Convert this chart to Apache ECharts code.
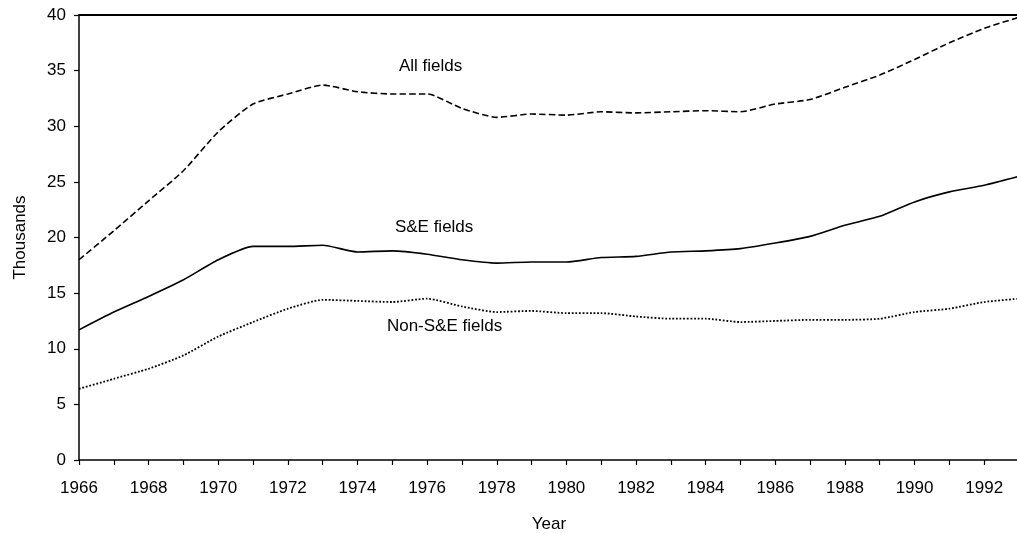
<!DOCTYPE html>
<html>
<head>
<meta charset="utf-8">
<script src="https://cdn.jsdelivr.net/npm/echarts@6/dist/echarts.min.js"></script>
<style>html,body{margin:0;padding:0;background:#fff;}#c{width:1017px;height:534px;}</style>
</head>
<body>
<div id="c"></div>
<script>
const years = [1966,1967,1968,1969,1970,1971,1972,1973,1974,1975,1976,1977,1978,1979,1980,1981,1982,1983,1984,1985,1986,1987,1988,1989,1990,1991,1992,1993];
const allFields = [18.0,20.6,23.3,26.0,29.5,32.0,32.9,33.7,33.1,32.9,32.9,31.6,30.8,31.1,31.0,31.3,31.2,31.3,31.4,31.3,32.0,32.4,33.5,34.6,36.0,37.5,38.8,39.8];
const seFields = [11.7,13.3,14.7,16.2,18.0,19.2,19.2,19.3,18.7,18.8,18.5,18.0,17.7,17.8,17.8,18.2,18.3,18.7,18.8,19.0,19.5,20.1,21.1,21.9,23.2,24.1,24.7,25.5];
const nonSeFields = [6.4,7.3,8.2,9.4,11.1,12.4,13.6,14.4,14.3,14.2,14.5,13.8,13.3,13.4,13.2,13.2,12.9,12.7,12.7,12.4,12.5,12.6,12.6,12.7,13.3,13.6,14.2,14.5];
const seriesNames = ['All fields','S&E fields','Non-S&E fields'];
const labelPos = [[1976.1,35.4],[1976.2,20.9],[1976.5,12.0]];
const yTicks = [0,5,10,15,20,25,30,35,40];

const font = 'Liberation Sans, Arial, sans-serif';
const fs = 17;
function mk(name, vals, type, lp){
  return {
    name, type:'line', data: years.map((y,i)=>[y, vals[i]]),
    showSymbol:false, smooth:0.2,
    lineStyle:{color:'#000', width: type==='dotted'?1.8:1.6, type},
    markPoint:{symbol:'circle', symbolSize:0, data:[{coord:lp}],
      label:{show:true, formatter:name, color:'#000', fontSize:fs, fontFamily:font, position:'inside'}},
    silent:true, animation:false
  };
}
const chart = echarts.init(document.getElementById('c'));
chart.setOption({
  animation:false,
  grid:{left:79, top:15, width:940, height:445, containLabel:false, outerBoundsMode:'none'},
  xAxis:[{
    type:'value', min:1966, max:1993, interval:1,
    name:'Year', nameLocation:'middle', nameGap:56,
    nameTextStyle:{color:'#000', fontSize:fs, fontFamily:font},
    axisLine:{show:true, lineStyle:{color:'#000', width:1.5}},
    axisTick:{show:true, length:5, lineStyle:{color:'#000', width:1.2}},
    axisLabel:{color:'#000', fontSize:fs, fontFamily:font, margin:20,
      formatter:v => (v%2===0 && v<1993) ? String(v) : ''},
    splitLine:{show:false}
  },{
    type:'value', position:'top', min:1966, max:1993,
    axisLine:{show:true, onZero:false, lineStyle:{color:'#000', width:1.8}},
    axisTick:{show:false}, axisLabel:{show:false}, splitLine:{show:false}
  }],
  yAxis:{
    type:'value', min:yTicks[0], max:yTicks[yTicks.length-1], interval:5,
    name:'Thousands', nameLocation:'middle', nameGap:50, nameRotate:90,
    nameTextStyle:{color:'#000', fontSize:fs, fontFamily:font},
    axisLine:{show:true, lineStyle:{color:'#000', width:1.5}},
    axisTick:{show:true, length:5, lineStyle:{color:'#000', width:1.2}},
    axisLabel:{color:'#000', fontSize:fs, fontFamily:font, margin:13},
    splitLine:{show:false}
  },
  series:[
    mk(seriesNames[0], allFields, 'dashed', labelPos[0]),
    mk(seriesNames[1], seFields, 'solid', labelPos[1]),
    mk(seriesNames[2], nonSeFields, 'dotted', labelPos[2])
  ]
});
</script>
</body>
</html>
